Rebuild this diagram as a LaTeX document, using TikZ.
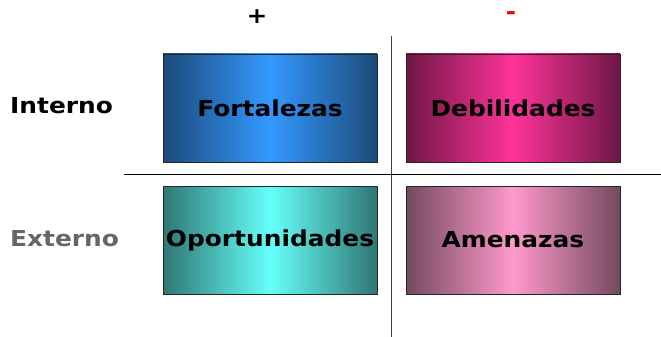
\documentclass[tikz,border=0pt]{standalone}
\usepackage{fontspec}
\setmainfont{DejaVu Sans}[FakeStretch=1.13]
\definecolor{fortdark}{HTML}{1C4A7A}
\definecolor{fortlight}{HTML}{3399FF}
\definecolor{debdark}{HTML}{6E1745}
\definecolor{deblight}{HTML}{FF3399}
\definecolor{opordark}{HTML}{2F7775}
\definecolor{oporlight}{HTML}{66FFFA}
\definecolor{amendark}{HTML}{734A5E}
\definecolor{amenlight}{HTML}{FF99CC}
\tikzset{
  cuadro/.style={draw=black!85, line width=0.9pt, minimum width=214pt,
    minimum height=108pt, inner sep=0pt,
    font=\fontsize{22}{26}\selectfont\bfseries},
  rotulo/.style={font=\fontsize{22}{26}\selectfont\bfseries, inner sep=0pt}
}
\begin{document}
\begin{tikzpicture}[x=1pt, y=-1pt]
      \useasboundingbox (0, 0) rectangle (661, 337);
      \node [rotulo] (mas) at (257, 17) {+};
      \node [rotulo, red] (menos) at (511, 16) {-};
      \node [rotulo, anchor=west] (interno) at (10, 106) {Interno};
      \node [rotulo, anchor=west, black!60] (externo) at (10, 239) {Externo};
      \node [cuadro, left color=fortdark, right color=fortdark,
        middle color=fortlight] (fort) at (270, 108) {Fortalezas};
      \node [cuadro, left color=debdark, right color=debdark,
        middle color=deblight] (deb) at (513, 108) {Debilidades};
      \node [cuadro, left color=opordark, right color=opordark,
        middle color=oporlight] (opor) at (270, 240) {Oportunidades};
      \node [cuadro, left color=amendark, right color=amendark,
        middle color=amenlight] (amen) at (513, 240) {Amenazas};
      \coordinate (arriba) at (391.5, 36);
      \coordinate (abajo) at (391.5, 337);
      \coordinate (izq) at (124, 174.5);
      \coordinate (der) at (661, 174.5);
      \draw [black, line width=0.9pt] (izq) -- (der);
      \draw [black!75, line width=1.3pt] (arriba) -- (abajo);
    \end{tikzpicture}
\end{document}
